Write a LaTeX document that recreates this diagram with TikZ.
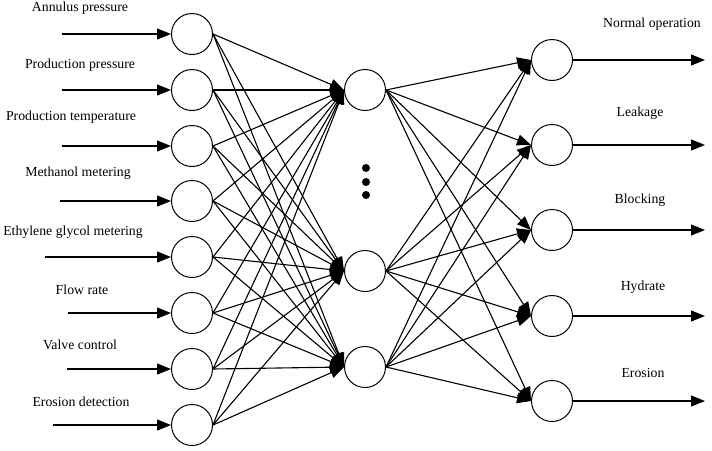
\documentclass[tikz,border=0pt]{standalone}
\usepackage{fontspec}
\setmainfont{Liberation Serif}
\usetikzlibrary{arrows.meta}
\begin{document}
\begin{tikzpicture}[x=1pt,y=-1pt,
  neuron/.style={circle,draw,line width=1pt,minimum size=41pt,inner sep=0pt},
  lbl/.style={font=\fontsize{13.8}{16}\selectfont,inner sep=0pt},
  conn/.style={line width=1.1pt,-{Triangle[length=14pt,width=11pt]}},
  dot/.style={circle,fill=black,inner sep=0pt,minimum size=8pt}]
\useasboundingbox (0,0) rectangle (712,450);
% input layer
\foreach \i/\y/\sx/\lx/\ly/\t in {
  1/34/62/80/8/Annulus pressure,
  2/90/62/80/65/Production pressure,
  3/146/62/71/117/Production temperature,
  4/201/60/78/173/Methanol metering,
  5/257/45/73/232/Ethylene glycol metering,
  6/313/68/82/290/Flow rate,
  7/369/67/80/345/Valve control,
  8/425/53/81/402/Erosion detection}{
  \node[neuron] (in\i) at (192,\y) {};
  \coordinate (s\i) at (\sx,\y);
  \node[lbl] (l\i) at (\lx,\ly) {\t};
  \draw[conn] (s\i) -- (in\i.west);
}
% hidden layer
\node[neuron] (h1) at (365,90) {};
\node[neuron] (h2) at (365,271) {};
\node[neuron] (h3) at (365,367) {};
\node[dot] (d1) at (366,168) {};
\node[dot] (d2) at (366,182) {};
\node[dot] (d3) at (366,195) {};
% output layer
\foreach \j/\y/\lx/\ly/\t in {
  1/60/652/24/Normal operation,
  2/145/640/113/Leakage,
  3/230/640/200/Blocking,
  4/316/643/287/Hydrate,
  5/401/643/373/Erosion}{
  \node[neuron] (o\j) at (552,\y) {};
  \coordinate (e\j) at (705,\y);
  \node[lbl] (m\j) at (\lx,\ly) {\t};
  \draw[conn] (o\j.east) -- (e\j);
}
% connections
\foreach \i in {1,...,8}{
  \foreach \h in {1,2,3}{
    \draw[conn] (in\i.east) -- (h\h.west);
  }
}
\foreach \h in {1,2,3}{
  \foreach \j in {1,...,5}{
    \draw[conn] (h\h.east) -- (o\j.west);
  }
}
\end{tikzpicture}
\end{document}
